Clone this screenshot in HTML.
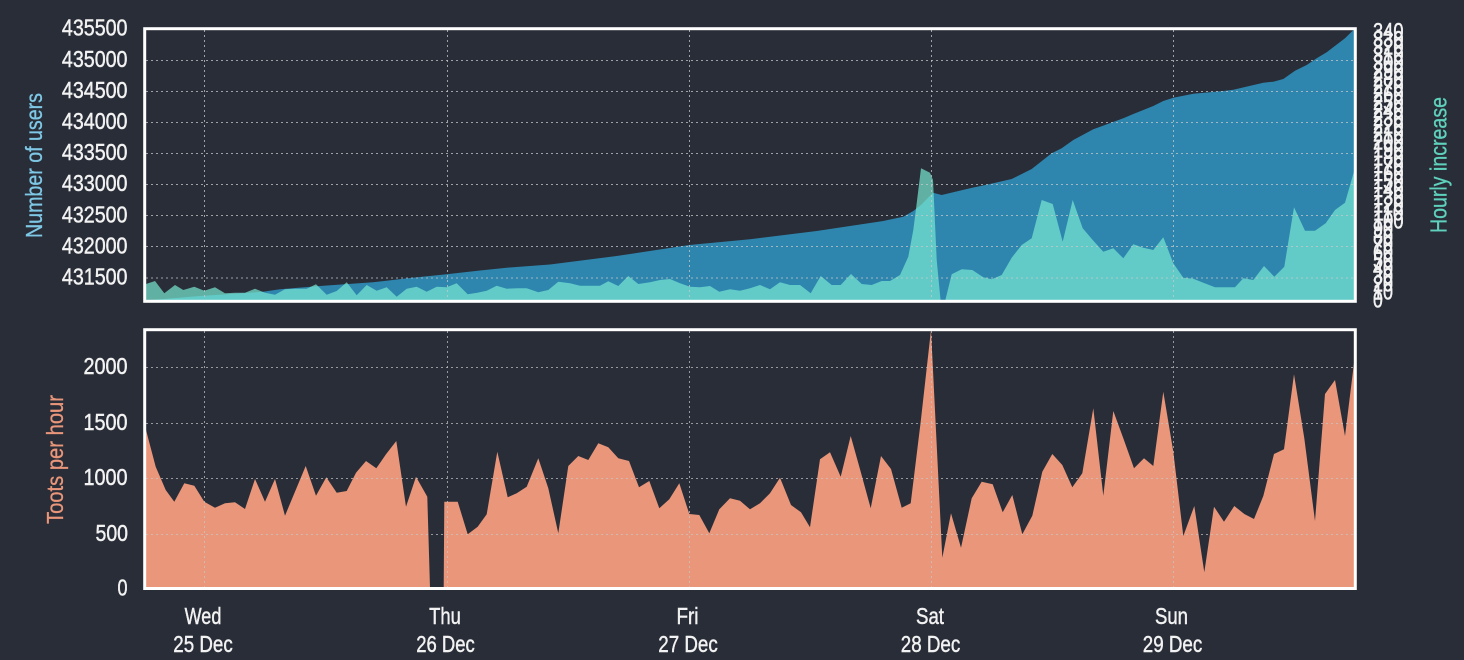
<!DOCTYPE html>
<html>
<head>
<meta charset="utf-8">
<style>
html,body{margin:0;padding:0;background:#292d38;}
svg{display:block;}
text{font-family:"Liberation Sans",sans-serif;}
</style>
</head>
<body>
<svg width="1464" height="660" viewBox="0 0 1464 660" xmlns="http://www.w3.org/2000/svg">
<rect x="0" y="0" width="1464" height="660" fill="#292d38"/>

<defs>
<clipPath id="ct"><rect x="145" y="29" width="1210" height="272"/></clipPath>
<clipPath id="cb"><rect x="145" y="330" width="1210" height="258"/></clipPath>
</defs>

<g clip-path="url(#ct)">
<polygon fill="#2e86ae" points="146,301.5 146,300.5 200,296 263,291.8 280,289.3 320,286 373,282.3 410,278 446.7,274.3 480,270.5 506.7,267.7 550,264.5 616.7,256 689.3,245 750,239.3 816.7,231 883.3,221 903.3,216.7 913.3,211 921,205 933,192.7 941.7,195 970,188.3 990,184 1011.7,179 1031.7,169 1051.7,153.3 1061.7,148.3 1073.3,140 1093.3,129.3 1123.3,118.3 1133.3,114 1153.3,106 1163.3,101 1173.3,97.7 1193.3,93.7 1223.3,91 1233.3,89.7 1263.3,82.7 1273.3,81.7 1283.3,79 1295,70.7 1306.7,65 1316.7,58.3 1326.7,52.3 1345,38.3 1355,28.5 1355,301.5"/>
<polygon fill="rgb(121,232,211)" fill-opacity="0.7" points="146,301.5 146,284 155,281 164.3,293.3 175,285 183.3,290 194.3,286.7 204.3,290.7 215,287.3 225,293.3 235,292.7 245,292.7 255,288.7 265,292.7 275,294.7 285,289.3 295,288.7 306.7,288.7 316,284.3 326.7,294.7 336.7,291 346.7,282.3 356.7,295.3 366.7,285 376.7,290.7 386.7,287.3 396.7,296.7 406.7,288.7 416.7,286.7 426.7,291.7 436.7,286.7 446.7,287.3 456.7,283.3 467.7,294.3 477.3,292.7 486.7,290.7 496.7,285.7 506.7,288.7 518.3,288.3 526.7,288.3 538.3,292.3 548.3,290 558.3,281.7 570,283.3 580,285.7 600,285.7 608.3,281.3 618.3,286 628.3,276 638.3,284 650,282.3 660,280 670,279 680,283.3 690,286.7 700,287.3 710,286 719.3,291.7 730,289.3 740,290.7 750,288.3 760,285 770,289.3 780,282.3 790,285 800,285 810.7,293.3 820.7,276 831.7,285 840.7,285 851,274 861.7,284 871.7,285 881.7,281 890,281 900,275 908.3,256.7 913.3,230 916.7,203.3 921,168.3 930,172.7 933,180 936.7,260 940.7,301.5 945,301.5 951.7,274.3 961.7,269.3 972.3,270 983.3,277.3 991.7,279.3 1001.7,275 1011.7,257.7 1021.7,245 1031.7,238.3 1041.7,200 1052.7,204 1062.7,241.7 1072.7,200 1082.7,228.3 1092.7,240 1103.3,251.7 1113.3,248.3 1123.3,258.3 1133.3,244.3 1143.3,247.7 1153.3,250 1163.3,237.3 1173.3,263.3 1183.3,277.7 1193.3,278.7 1203.3,282.7 1215,287.3 1235,287.3 1243.3,278.3 1253.3,280 1264,266 1274.3,276.7 1284.3,266.7 1294,207.3 1305,230.7 1315,230.7 1325.7,223.3 1335,210 1345,202.7 1355,168 1355,301.5"/>
</g>

<g stroke="#c8c8c8" stroke-opacity="0.75" stroke-width="1" stroke-dasharray="2,3" fill="none">
<line x1="146" y1="60.5" x2="1354" y2="60.5"/>
<line x1="146" y1="91.5" x2="1354" y2="91.5"/>
<line x1="146" y1="122.5" x2="1354" y2="122.5"/>
<line x1="146" y1="153.5" x2="1354" y2="153.5"/>
<line x1="146" y1="184.5" x2="1354" y2="184.5"/>
<line x1="146" y1="215.5" x2="1354" y2="215.5"/>
<line x1="146" y1="246.5" x2="1354" y2="246.5"/>
<line x1="146" y1="278" x2="1354" y2="278"/>
<line x1="204.5" y1="30" x2="204.5" y2="300"/>
<line x1="447.5" y1="30" x2="447.5" y2="300"/>
<line x1="689.5" y1="30" x2="689.5" y2="300"/>
<line x1="931.5" y1="30" x2="931.5" y2="300"/>
<line x1="1173.5" y1="30" x2="1173.5" y2="300"/>
</g>
<rect x="144.7" y="28.7" width="1210.6" height="272.6" fill="none" stroke="#ffffff" stroke-width="3"/>

<g clip-path="url(#cb)">
<polygon fill="#e9967a" points="146,588 146,430 155.7,466.7 165.7,490 174.3,501.7 184.3,483.3 194.3,485.7 204.3,501.7 215,507.7 225,503.3 235,502.3 245,509 255,479 265,501.7 275,479 285,515.7 305.7,466 316,495.7 326.3,477.3 336.7,492.7 346.7,491 356,472.7 366,461 376.3,468.3 386,454.3 396.3,441 406,506.7 416,476.7 427.3,496.7 430,588 443.7,588 444.3,501.7 457.7,501.7 467.7,534.3 477.7,526.7 486.7,514.3 497.3,451.7 507.7,497.3 516.7,493.3 526.7,486.7 538.3,458.3 548.3,488.3 558.3,533.3 568.3,466 578.3,456 588.3,460 598.3,443.3 608.3,447.3 618.3,458.3 629,461 639,487.3 649.3,481 659.3,508.3 669.3,499.3 679.3,483.3 689.3,514 699.3,515 709.3,533.3 719.3,509.3 730,498.3 740,500.7 750,509.3 760,503.3 770,493.3 780,477.7 791,505 801,512.3 810,527.3 820,459.3 830,452.3 840.7,476.7 850.7,436 860.7,471.7 870.7,508.3 881,456 891,469 901.7,507.7 910.7,503.3 920.7,421.7 931,330 942.3,557.7 951,513.3 961,547.7 971.7,498.3 981.7,481.7 992.7,484.3 1002.7,512.3 1012.3,495 1022.3,534.3 1032.3,515.7 1042.3,471.7 1052.3,454 1062.3,465 1072.3,487.3 1082.3,473.3 1093.3,408.3 1103.3,495.7 1113.3,411 1123.3,438.3 1134,468.3 1144,458.3 1153.3,466 1163.3,391.7 1173.3,451.7 1183.3,536 1194.3,506 1204.3,572.3 1214,506.7 1224,521.7 1234.3,506 1244.3,514 1254,519 1263.3,496 1274,454 1284,449.3 1294,374.3 1304.3,438.3 1315,521 1325,394 1335,380 1345,436 1355,355 1355,588"/>
</g>
<g stroke="#c8c8c8" stroke-opacity="0.7" stroke-width="1" stroke-dasharray="2,3" fill="none">
<line x1="146" y1="367.5" x2="1354" y2="367.5"/>
<line x1="146" y1="423.5" x2="1354" y2="423.5"/>
<line x1="146" y1="478.5" x2="1354" y2="478.5"/>
<line x1="146" y1="534.5" x2="1354" y2="534.5"/>
<line x1="204.5" y1="331" x2="204.5" y2="587"/>
<line x1="447.5" y1="331" x2="447.5" y2="587"/>
<line x1="689.5" y1="331" x2="689.5" y2="587"/>
<line x1="931.5" y1="331" x2="931.5" y2="587"/>
<line x1="1173.5" y1="331" x2="1173.5" y2="587"/>
</g>
<rect x="144.7" y="329.7" width="1210.6" height="258.8" fill="none" stroke="#ffffff" stroke-width="3"/>

<g fill="#f2f2f2" stroke="#f2f2f2" stroke-width="0.45" font-size="23" text-anchor="end">
<text x="127.5" y="35.5" textLength="65.6" lengthAdjust="spacingAndGlyphs">435500</text>
<text x="127.5" y="66.8" textLength="65.6" lengthAdjust="spacingAndGlyphs">435000</text>
<text x="127.5" y="97.9" textLength="65.6" lengthAdjust="spacingAndGlyphs">434500</text>
<text x="127.5" y="129" textLength="65.6" lengthAdjust="spacingAndGlyphs">434000</text>
<text x="127.5" y="160.1" textLength="65.6" lengthAdjust="spacingAndGlyphs">433500</text>
<text x="127.5" y="191.2" textLength="65.6" lengthAdjust="spacingAndGlyphs">433000</text>
<text x="127.5" y="222.3" textLength="65.6" lengthAdjust="spacingAndGlyphs">432500</text>
<text x="127.5" y="253.4" textLength="65.6" lengthAdjust="spacingAndGlyphs">432000</text>
<text x="127.5" y="284.5" textLength="65.6" lengthAdjust="spacingAndGlyphs">431500</text>
</g>

<g fill="#f2f2f2" stroke="#f2f2f2" stroke-width="0.45" font-size="23" text-anchor="end">
<text x="127.5" y="374" textLength="44" lengthAdjust="spacingAndGlyphs">2000</text>
<text x="127.5" y="430" textLength="44" lengthAdjust="spacingAndGlyphs">1500</text>
<text x="127.5" y="485" textLength="44" lengthAdjust="spacingAndGlyphs">1000</text>
<text x="128" y="541" textLength="32.5" lengthAdjust="spacingAndGlyphs">500</text>
<text x="127.5" y="595.5" textLength="10" lengthAdjust="spacingAndGlyphs">0</text>
</g>

<g fill="#f2f2f2" stroke="#f2f2f2" stroke-width="0.45" font-size="23" text-anchor="start">
<text x="1373" y="307.5" textLength="9.8" lengthAdjust="spacingAndGlyphs">0</text>
<text x="1373" y="299.6" textLength="20" lengthAdjust="spacingAndGlyphs">10</text>
<text x="1373" y="291.7" textLength="20" lengthAdjust="spacingAndGlyphs">20</text>
<text x="1373" y="283.8" textLength="20" lengthAdjust="spacingAndGlyphs">30</text>
<text x="1373" y="275.9" textLength="20" lengthAdjust="spacingAndGlyphs">40</text>
<text x="1373" y="268" textLength="20" lengthAdjust="spacingAndGlyphs">50</text>
<text x="1373" y="260.1" textLength="20" lengthAdjust="spacingAndGlyphs">60</text>
<text x="1373" y="252.2" textLength="20" lengthAdjust="spacingAndGlyphs">70</text>
<text x="1373" y="244.3" textLength="20" lengthAdjust="spacingAndGlyphs">80</text>
<text x="1373" y="236.4" textLength="20" lengthAdjust="spacingAndGlyphs">90</text>
<text x="1373" y="228.5" textLength="30.5" lengthAdjust="spacingAndGlyphs">100</text>
<text x="1373" y="220.6" textLength="30.5" lengthAdjust="spacingAndGlyphs">110</text>
<text x="1373" y="212.7" textLength="30.5" lengthAdjust="spacingAndGlyphs">120</text>
<text x="1373" y="204.8" textLength="30.5" lengthAdjust="spacingAndGlyphs">130</text>
<text x="1373" y="196.9" textLength="30.5" lengthAdjust="spacingAndGlyphs">140</text>
<text x="1373" y="189" textLength="30.5" lengthAdjust="spacingAndGlyphs">150</text>
<text x="1373" y="181.1" textLength="30.5" lengthAdjust="spacingAndGlyphs">160</text>
<text x="1373" y="173.2" textLength="30.5" lengthAdjust="spacingAndGlyphs">170</text>
<text x="1373" y="165.3" textLength="30.5" lengthAdjust="spacingAndGlyphs">180</text>
<text x="1373" y="157.4" textLength="30.5" lengthAdjust="spacingAndGlyphs">190</text>
<text x="1373" y="149.5" textLength="30.5" lengthAdjust="spacingAndGlyphs">200</text>
<text x="1373" y="141.6" textLength="30.5" lengthAdjust="spacingAndGlyphs">210</text>
<text x="1373" y="133.7" textLength="30.5" lengthAdjust="spacingAndGlyphs">220</text>
<text x="1373" y="125.8" textLength="30.5" lengthAdjust="spacingAndGlyphs">230</text>
<text x="1373" y="117.9" textLength="30.5" lengthAdjust="spacingAndGlyphs">240</text>
<text x="1373" y="110" textLength="30.5" lengthAdjust="spacingAndGlyphs">250</text>
<text x="1373" y="102.1" textLength="30.5" lengthAdjust="spacingAndGlyphs">260</text>
<text x="1373" y="94.2" textLength="30.5" lengthAdjust="spacingAndGlyphs">270</text>
<text x="1373" y="86.3" textLength="30.5" lengthAdjust="spacingAndGlyphs">280</text>
<text x="1373" y="78.4" textLength="30.5" lengthAdjust="spacingAndGlyphs">290</text>
<text x="1373" y="70.5" textLength="30.5" lengthAdjust="spacingAndGlyphs">300</text>
<text x="1373" y="62.6" textLength="30.5" lengthAdjust="spacingAndGlyphs">310</text>
<text x="1373" y="54.7" textLength="30.5" lengthAdjust="spacingAndGlyphs">320</text>
<text x="1373" y="46.8" textLength="30.5" lengthAdjust="spacingAndGlyphs">330</text>
<text x="1373" y="38.9" textLength="30.5" lengthAdjust="spacingAndGlyphs">340</text>
</g>

<text transform="translate(42,165.5) rotate(-90)" text-anchor="middle" font-size="23" fill="#7ec8e6" stroke="#7ec8e6" stroke-width="0.3" textLength="145" lengthAdjust="spacingAndGlyphs">Number of users</text>
<text transform="translate(1446.5,165) rotate(-90)" text-anchor="middle" font-size="23" fill="#5fd1bd" stroke="#5fd1bd" stroke-width="0.3" textLength="136" lengthAdjust="spacingAndGlyphs">Hourly increase</text>
<text transform="translate(63,459.5) rotate(-90)" text-anchor="middle" font-size="23" fill="#e9967a" stroke="#e9967a" stroke-width="0.3" textLength="129" lengthAdjust="spacingAndGlyphs">Toots per hour</text>

<g fill="#f2f2f2" stroke="#f2f2f2" stroke-width="0.45" font-size="23.5" text-anchor="middle">
<text x="203" y="624" textLength="36.7" lengthAdjust="spacingAndGlyphs">Wed</text>
<text x="203" y="652" textLength="59.4" lengthAdjust="spacingAndGlyphs">25 Dec</text>
<text x="445" y="624" textLength="31.7" lengthAdjust="spacingAndGlyphs">Thu</text>
<text x="445.5" y="652" textLength="58.5" lengthAdjust="spacingAndGlyphs">26 Dec</text>
<text x="687.5" y="624" textLength="22" lengthAdjust="spacingAndGlyphs">Fri</text>
<text x="688" y="652" textLength="59.5" lengthAdjust="spacingAndGlyphs">27 Dec</text>
<text x="930" y="624" textLength="28" lengthAdjust="spacingAndGlyphs">Sat</text>
<text x="930.5" y="652" textLength="59.5" lengthAdjust="spacingAndGlyphs">28 Dec</text>
<text x="1171.5" y="624" textLength="33" lengthAdjust="spacingAndGlyphs">Sun</text>
<text x="1172.5" y="652" textLength="59.5" lengthAdjust="spacingAndGlyphs">29 Dec</text>
</g>
</svg>
</body>
</html>
